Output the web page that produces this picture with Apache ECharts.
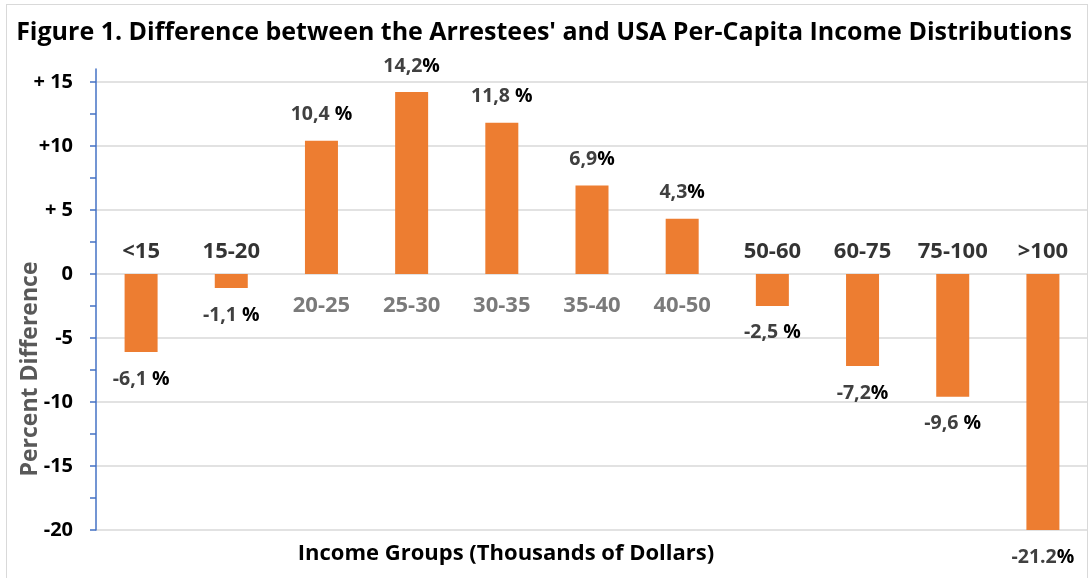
<!DOCTYPE html>
<html>
<head>
<meta charset="utf-8">
<script src="https://cdn.jsdelivr.net/npm/echarts@6/dist/echarts.min.js"></script>
<style>
  html, body { margin: 0; padding: 0; background: #fff; }
  #frame { position: absolute; left: 6px; top: 4px; width: 1080px; height: 600px; border: 1px solid #d9d9d9; }
  #chart { position: absolute; left: 0; top: 0; width: 1088px; height: 578px; }
</style>
</head>
<body>
<div id="frame"></div>
<div id="chart"></div>
<script>
const categories = ['<15', '15-20', '20-25', '25-30', '30-35', '35-40', '40-50', '50-60', '60-75', '75-100', '>100'];
const values = [-6.1, -1.1, 10.4, 14.2, 11.8, 6.9, 4.3, -2.5, -7.2, -9.6, -21.2];
const valueTexts = ['-6,1 ', '-1,1 ', '10,4 ', '14,2', '11,8 ', '6,9', '4,3', '-2,5 ', '-7,2', '-9,6 ', '-21.2'];
const yTicks = [-20, -15, -10, -5, 0, 5, 10, 15];
const yTickTexts = ['-20', '-15', '-10', '-5', '0', '+ 5', '+10', '+ 15'];
const yMinorTicks = [-17.5, -12.5, -7.5, -2.5, 2.5, 7.5, 12.5];

const FONT = 'Open Sans';
const ORANGE = '#ED7D31';
const BLUE = '#4472C4';

const chart = echarts.init(document.getElementById('chart'));

const barData = values.map((v, i) => ({
  value: v,
  label: { position: v >= 0 ? 'top' : 'bottom', distance: v >= 0 ? 16 : 17 }
}));

const catData = values.map((v, i) => ({
  value: [i, 0],
  label: {
    position: v >= 0 ? 'bottom' : 'top',
    distance: v >= 0 ? 21 : 11,
    color: v >= 0 ? '#595959' : '#000'
  }
}));

chart.setOption({
  animation: false,
  textStyle: { fontFamily: FONT },
  title: {
    text: "Figure 1. Difference between the Arrestees' and USA Per-Capita Income Distributions",
    left: 'center',
    top: 15,
    textStyle: { fontFamily: FONT, fontSize: 25, fontWeight: 'bold', color: '#000' }
  },
  grid: { left: 96, top: 69, width: 995, height: 461 },
  xAxis: {
    type: 'category',
    data: categories,
    axisLine: { show: false },
    axisTick: { show: false },
    axisLabel: { show: false },
    splitLine: { show: false }
  },
  yAxis: [
    {
      type: 'value',
      min: -20,
      max: 16,
      interval: 5,
      axisLine: { show: true, lineStyle: { color: BLUE, width: 1.5 } },
      axisTick: { show: true, length: 6, customValues: yTicks, lineStyle: { color: BLUE, width: 1.5 } },
      axisLabel: {
        customValues: yTicks,
        margin: 23,
        fontFamily: FONT,
        fontSize: 20,
        fontWeight: 'bold',
        color: '#000',
        formatter: (v) => yTickTexts[yTicks.indexOf(v)]
      },
      splitLine: { show: true, lineStyle: { color: '#d9d9d9', width: 1.5 } }
    },
    {
      type: 'value',
      position: 'left',
      min: -20,
      max: 16,
      interval: 5,
      axisLine: { show: false },
      axisTick: { show: true, length: 6, customValues: yMinorTicks, lineStyle: { color: BLUE, width: 1.5 } },
      axisLabel: { show: false },
      splitLine: { show: false }
    }
  ],
  graphic: [
    {
      type: 'text',
      x: 30,
      y: 369,
      rotation: Math.PI / 2,
      style: {
        text: 'Percent Difference',
        fill: '#595959',
        font: 'bold 23px ' + FONT,
        textAlign: 'center',
        textVerticalAlign: 'middle'
      }
    },
    {
      type: 'text',
      x: 506,
      y: 554,
      style: {
        text: 'Income Groups (Thousands of Dollars)',
        fill: '#000',
        font: 'bold 22px ' + FONT,
        textAlign: 'center',
        textVerticalAlign: 'middle'
      }
    }
  ],
  series: [
    {
      type: 'bar',
      data: barData,
      barWidth: 33,
      itemStyle: { color: ORANGE },
      label: {
        show: true,
        formatter: (p) => '{n|' + valueTexts[p.dataIndex] + '}{p|%}',
        rich: {
          n: { fontFamily: FONT, fontSize: 19.5, fontWeight: 'bold', color: '#404040' },
          p: { fontFamily: FONT, fontSize: 19.5, fontWeight: 'bold', color: '#000' }
        }
      }
    },
    {
      type: 'scatter',
      data: catData,
      symbolSize: 0,
      silent: true,
      label: {
        show: true,
        fontFamily: FONT,
        fontSize: 22,
        fontWeight: 'bold',
        formatter: (p) => categories[p.dataIndex]
      }
    }
  ]
});
</script>
</body>
</html>
